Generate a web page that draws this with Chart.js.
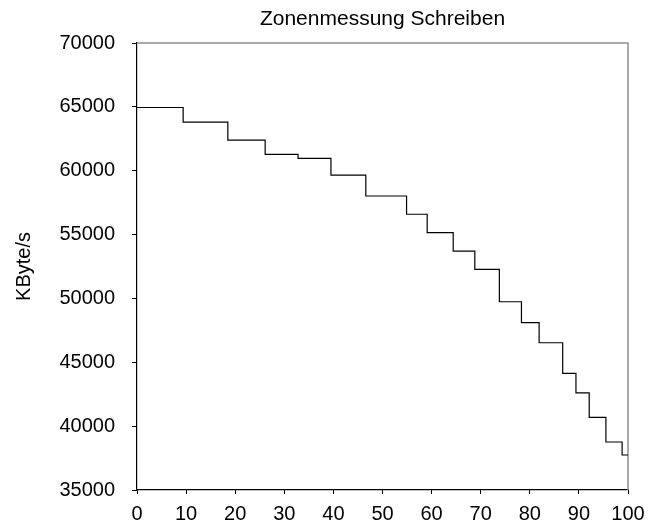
<!DOCTYPE html>
<html lang="de">
<head>
    <meta charset="UTF-8">
    <title>Zonenmessung Schreiben</title>
    <style>
        body {
            margin: 0;
            background-color: #ffffff;
        }
        .chart-box {
            width: 661px;
            height: 527px;
        }
    </style>
    <script src="https://cdn.jsdelivr.net/npm/chart.js"></script>
</head>
<body>
    <div class="chart-box">
        <canvas id="zoneChart"></canvas>
    </div>

    <script>
        // Zonen: Beginn (Position in %) und Transferrate (KByte/s)
        const zoneStarts = [0, 9.4, 18.5, 26.1, 32.8, 39.5, 46.6, 54.9, 59.1, 64.4,
                            68.8, 73.8, 78.3, 81.9, 86.7, 89.4, 92.1, 95.5, 98.8];
        const zoneRates = [64950, 63800, 62400, 61280, 60970, 59660, 58020, 56590, 55150, 53710,
                           52280, 49740, 48100, 46530, 44130, 42610, 40690, 38760, 37740];
        const xEnd = 100;
        const xTicks = [0, 10, 20, 30, 40, 50, 60, 70, 80, 90, 100];
        const yTicks = [35000, 40000, 45000, 50000, 55000, 60000, 65000, 70000];

        const points = zoneStarts.map((x, i) => ({ x: x, y: zoneRates[i] }));
        points.push({ x: xEnd, y: zoneRates[zoneRates.length - 1] });

        const font = 'Liberation Sans, Arial, sans-serif';

        // Titel über der Plotfläche zentriert, dazu graue Rahmenlinien oben/rechts
        const frameAndTitle = {
            id: 'frameAndTitle',
            beforeDatasetsDraw(chart) {
                const { ctx, chartArea } = chart;
                ctx.save();
                ctx.strokeStyle = '#909090';
                ctx.lineWidth = 1.5;
                ctx.beginPath();
                ctx.moveTo(chartArea.left, chartArea.top);
                ctx.lineTo(chartArea.right, chartArea.top);
                ctx.lineTo(chartArea.right, chartArea.bottom);
                ctx.stroke();
                ctx.restore();
            },
            afterDraw(chart) {
                const { ctx, chartArea } = chart;
                ctx.save();
                ctx.fillStyle = '#000000';
                ctx.font = '21px ' + font;
                ctx.textAlign = 'center';
                ctx.textBaseline = 'middle';
                ctx.fillText('Zonenmessung Schreiben', (chartArea.left + chartArea.right) / 2, 19);
                ctx.restore();
            }
        };

        const ctx = document.getElementById('zoneChart').getContext('2d');
        const zoneChart = new Chart(ctx, {
            type: 'line',
            data: {
                datasets: [{
                    label: 'Schreiben',
                    data: points,
                    borderColor: '#000000',
                    borderWidth: 1.2,
                    pointRadius: 0,
                    stepped: 'before',
                    fill: false
                }]
            },
            options: {
                responsive: true,
                maintainAspectRatio: false,
                animation: false,
                layout: {
                    padding: { top: 43, right: 33, bottom: 0, left: 0 }
                },
                plugins: {
                    legend: { display: false },
                    tooltip: { enabled: false }
                },
                scales: {
                    x: {
                        type: 'linear',
                        min: 0,
                        max: 100,
                        afterBuildTicks: (scale) => {
                            scale.ticks = xTicks.map(v => ({ value: v }));
                        },
                        afterFit: (scale) => { scale.height = 37; },
                        grid: {
                            drawOnChartArea: false,
                            drawTicks: true,
                            tickLength: 4,
                            color: '#000000'
                        },
                        border: { color: '#000000', width: 1.2 },
                        ticks: {
                            color: '#000000',
                            padding: 8,
                            maxRotation: 0,
                            font: { family: font, size: 20 }
                        }
                    },
                    y: {
                        min: 35000,
                        max: 70000,
                        afterBuildTicks: (scale) => {
                            scale.ticks = yTicks.map(v => ({ value: v }));
                        },
                        afterFit: (scale) => { scale.width = 137; },
                        grid: {
                            drawOnChartArea: false,
                            drawTicks: true,
                            tickLength: 5,
                            color: '#000000'
                        },
                        border: { color: '#000000', width: 1.2 },
                        ticks: {
                            color: '#000000',
                            padding: 17,
                            font: { family: font, size: 20 },
                            callback: (v) => String(v)
                        },
                        title: {
                            display: true,
                            text: 'KByte/s',
                            color: '#000000',
                            padding: { top: 12, bottom: 0 },
                            font: { family: font, size: 20 }
                        }
                    }
                }
            },
            plugins: [frameAndTitle]
        });
    </script>
</body>
</html>
